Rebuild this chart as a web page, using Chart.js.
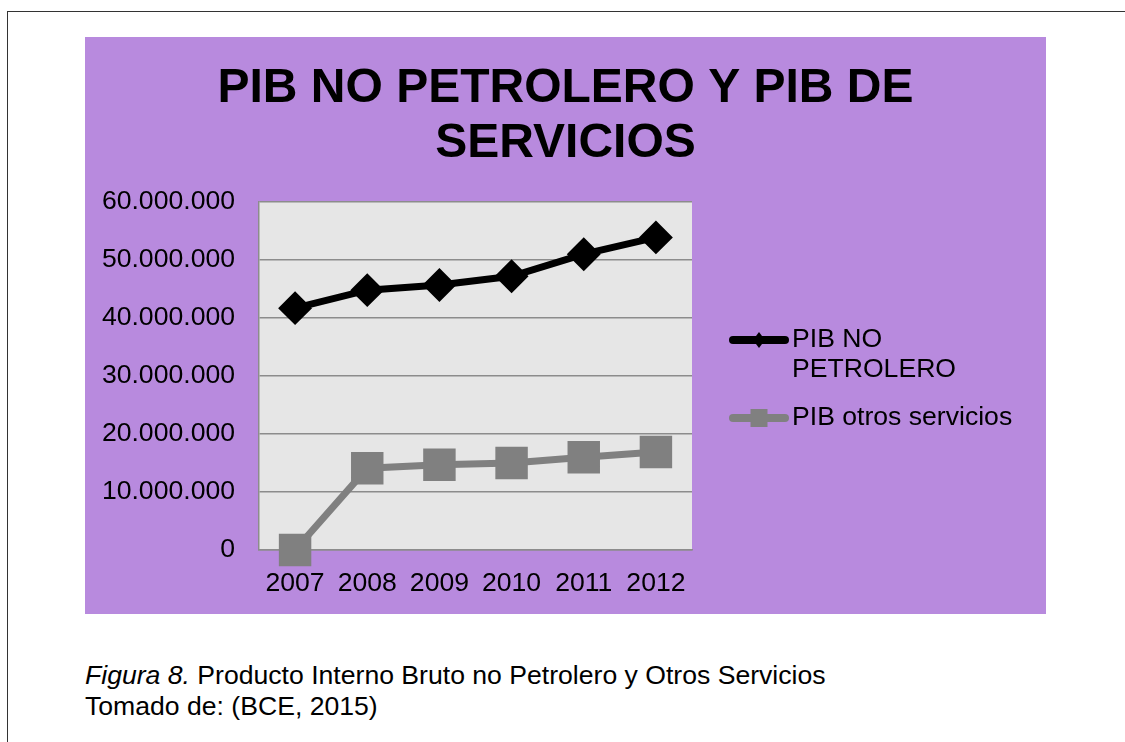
<!DOCTYPE html>
<html>

<head>
  <meta charset="utf-8">
  <title>PIB no petrolero y PIB de servicios</title>
  <style>
    html,
    body {
      margin: 0;
      padding: 0;
      width: 1125px;
      height: 742px;
      background: #fff;
      overflow: hidden;
      font-family: "Liberation Sans", Arial, sans-serif;
    }

    #frame {
      position: absolute;
      left: 7px;
      top: 11px;
      right: 0;
      bottom: 0;
      border-top: 1px solid #333;
      border-left: 1px solid #333;
    }

    #panel {
      position: absolute;
      left: 85px;
      top: 37px;
      width: 961px;
      height: 577px;
      background: #b88ade;
    }

    #caption {
      position: absolute;
      left: 85px;
      top: 660px;
      font-size: 26.6px;
      line-height: 31px;
      color: #000;
    }
  </style>
  <script src="https://cdn.jsdelivr.net/npm/chart.js@4/dist/chart.umd.min.js"></script>
</head>

<body>
  <div id="frame"></div>
  <div id="panel"><canvas id="chart" width="961" height="577"></canvas></div>
  <div id="caption"><i>Figura 8.</i> Producto Interno Bruto no Petrolero y Otros Servicios<br>Tomado de: (BCE, 2015)</div>

  <script>
    // data
    var years = ['2007', '2008', '2009', '2010', '2011', '2012'];
    var pibNoPetrolero = [41700000, 44800000, 45700000, 47200000, 51000000, 53900000];
    var pibOtrosServicios = [0, 14100000, 14700000, 15000000, 16000000, 16900000];
    var seriesNames = [['PIB NO', 'PETROLERO'], ['PIB otros servicios']];
    var titleLines = ['PIB NO PETROLERO Y PIB DE', 'SERVICIOS'];
    var yMax = 60000000;
    var yStep = 10000000;

    var FONT = '"Liberation Sans", Arial, sans-serif';
    var TXT = 26.6;

    function puntos(v) {
      return String(v).replace(/\B(?=(\d{3})+(?!\d))/g, '.');
    }

    // grey plot background
    var plotBg = {
      id: 'plotBg',
      beforeDraw: function (chart) {
        var a = chart.chartArea, ctx = chart.ctx;
        ctx.save();
        ctx.fillStyle = '#e6e6e6';
        ctx.fillRect(a.left, a.top, a.right - a.left, a.bottom - a.top);
        ctx.restore();
      }
    };

    // legend on the right, with wrapped labels
    var sideLegend = {
      id: 'sideLegend',
      afterDraw: function (chart) {
        var ctx = chart.ctx, a = chart.chartArea;
        var x0 = a.right + 37, lineLen = 60, textX = x0 + 63, lh = 30, gap = 18;
        var sets = chart.data.datasets;
        var total = 0;
        sets.forEach(function (d, i) { total += seriesNames[i].length * lh; });
        total += gap * (sets.length - 1);
        var y = (a.top + a.bottom) / 2 - total / 2 + lh / 2 + 3;
        ctx.save();
        sets.forEach(function (d, i) {
          var cx = x0 + lineLen / 2;
          ctx.strokeStyle = d.borderColor;
          ctx.lineWidth = 8;
          ctx.lineCap = 'round';
          ctx.beginPath();
          ctx.moveTo(x0 + 4, y);
          ctx.lineTo(x0 + lineLen - 4, y);
          ctx.stroke();
          ctx.fillStyle = d.borderColor;
          ctx.beginPath();
          if (d.pointStyle === 'rectRot') {
            ctx.moveTo(cx, y - 8);
            ctx.lineTo(cx + 6, y);
            ctx.lineTo(cx, y + 8);
            ctx.lineTo(cx - 6, y);
            ctx.closePath();
          } else {
            ctx.rect(cx - 8.5, y - 9, 17, 18);
          }
          ctx.fill();
          ctx.fillStyle = '#000';
          ctx.font = TXT + 'px ' + FONT;
          ctx.textBaseline = 'middle';
          ctx.textAlign = 'left';
          seriesNames[i].forEach(function (t, k) {
            ctx.fillText(t, textX, y + k * lh);
          });
          y += seriesNames[i].length * lh + gap;
        });
        ctx.restore();
      }
    };

    var ctx = document.getElementById('chart').getContext('2d');
    var chart = new Chart(ctx, {
      type: 'line',
      data: {
        labels: years,
        datasets: [{
          label: seriesNames[0].join(' '),
          data: pibNoPetrolero,
          borderColor: '#000000',
          backgroundColor: '#000000',
          borderWidth: 7,
          pointStyle: 'rectRot',
          pointRadius: 12,
          pointBackgroundColor: '#000000',
          pointBorderColor: '#000000',
          tension: 0,
          clip: false
        },
        {
          label: seriesNames[1].join(' '),
          data: pibOtrosServicios,
          borderColor: '#808080',
          backgroundColor: '#808080',
          borderWidth: 7,
          pointStyle: 'rect',
          pointRadius: 18,
          pointBackgroundColor: '#808080',
          pointBorderColor: '#808080',
          tension: 0,
          clip: false
        }]
      },
      options: {
        responsive: false,
        animation: false,
        events: [],
        layout: { padding: 0 },
        plugins: {
          legend: { display: false },
          tooltip: { enabled: false },
          title: {
            display: true,
            text: titleLines,
            color: '#000',
            font: { family: FONT, size: 48, weight: 'bold', lineHeight: 55 / 48 },
            padding: { top: 24, bottom: 31 }
          }
        },
        scales: {
          x: {
            offset: true,
            grid: { display: false },
            border: { display: true, color: '#8c8c8c', width: 1.5 },
            ticks: { color: '#000', font: { family: FONT, size: TXT }, padding: 10, maxRotation: 0 },
            afterFit: function (s) { s.height = 64; }
          },
          y: {
            min: 0,
            max: yMax,
            ticks: {
              stepSize: yStep,
              color: '#000',
              font: { family: FONT, size: TXT },
              padding: 24,
              callback: function (v) { return puntos(v); }
            },
            grid: { color: '#8c8c8c', lineWidth: 1.5, drawTicks: false },
            border: { color: '#8c8c8c', width: 1.5 },
            afterFit: function (s) { s.width = 174; }
          },
          // empty space on the right keeps the title centred over the whole panel
          side: {
            position: 'right',
            grid: { display: false },
            ticks: { display: false },
            border: { display: false },
            afterFit: function (s) { s.width = 354; }
          }
        }
      },
      plugins: [plotBg, sideLegend]
    });
  </script>
</body>

</html>
